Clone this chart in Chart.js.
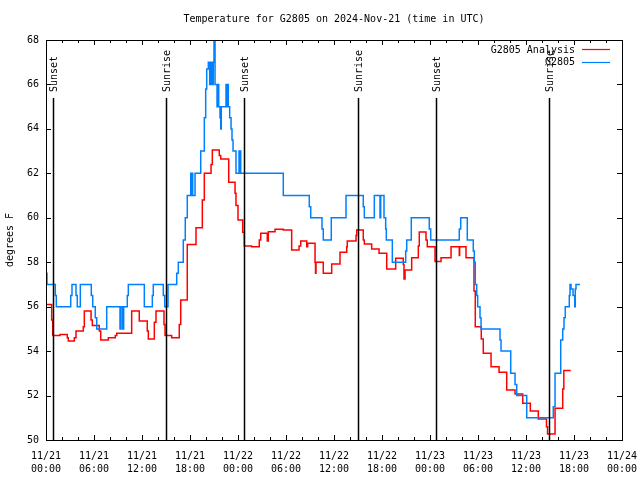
<!DOCTYPE html>
<html>
<head>
<meta charset="utf-8">
<script src="https://cdn.jsdelivr.net/npm/chart.js@4.4.1/dist/chart.umd.min.js"></script>
<style>
    html, body { margin: 0; padding: 0; background: #fff; }
    #wrap { width: 640px; height: 480px; }
</style>
</head>
<body>
<div id="wrap"><canvas id="tempChart" width="640" height="480"></canvas></div>
<script>
// --- Dados (horas desde 11/21 00:00 UTC) ---
const analysisHours = [0, 0.71, 0.84, 1.75, 2.66, 2.79, 3.54, 3.75, 4.66, 4.79, 5.63, 5.79, 6.66, 6.84, 7.79, 8.66, 8.84,
    10.71, 11.66, 12.66, 12.79, 13.54, 13.75, 14.75, 14.88, 15.71, 16.66, 16.84, 17.66, 18.75, 19.54, 19.79, 20.63, 20.79,
    21.66, 21.84, 22.84, 23.63, 23.75, 24.0, 24.59, 24.79, 25.71, 26.66, 26.84, 27.66, 27.79, 28.63, 29.66, 30.71, 31.63,
    31.84, 32.59, 32.71, 33.63, 33.69, 33.75, 34.66, 35.71, 36.75, 37.59, 37.66, 38.75, 38.84, 39.66, 39.79, 40.71, 41.63,
    42.59, 43.71, 44.66, 44.75, 44.88, 45.71, 46.54, 46.66, 47.5, 47.66, 48.63, 49.38, 50.63, 51.66, 51.71, 52.5, 53.5,
    53.66, 54.41, 54.66, 55.63, 56.63, 57.59, 58.63, 59.59, 60.54, 61.54, 62.56, 62.69, 63.63, 64.59, 64.73, 65.59];
const analysisTemps = [56.1, 55.4, 54.7, 54.75, 54.6, 54.45, 54.6, 54.9, 55.1, 55.8, 55.4, 55.15, 54.9, 54.5, 54.6, 54.7, 54.8,
    55.8, 55.35, 54.9, 54.55, 55.3, 55.8, 55.2, 54.7, 54.6, 55.2, 56.3, 58.8, 59.55, 60.8, 62.0, 62.4, 63.05,
    62.8, 62.65, 61.6, 61.1, 60.55, 59.9, 59.35, 58.73, 58.7, 59.0, 59.3, 58.95, 59.37, 59.48, 59.45, 58.55, 58.73,
    58.95, 58.7, 58.85, 58.0, 57.5, 58.0, 57.5, 57.92, 58.45, 58.7, 58.95, 59.2, 59.45, 59.0, 58.82, 58.6, 58.4,
    57.7, 58.18, 57.9, 57.25, 57.65, 58.2, 58.73, 59.36, 59.0, 58.7, 58.03, 58.2, 58.7, 58.3, 58.7, 58.2, 56.7,
    55.1, 54.55, 53.9, 53.3, 53.05, 52.25, 52.07, 51.65, 51.3, 50.95, 50.6, 50.27, 51.43, 52.3, 53.13, 53.13];

const obsHours = [0, 0.125, 1.16, 1.29, 3.09, 3.25, 3.75, 3.91, 4.29, 5.66, 5.84, 6.16, 6.34, 7.59, 9.25, 9.375, 9.59, 9.71,
    10.16, 10.29, 12.29, 13.29, 13.41, 14.66, 14.84, 15.25, 16.34, 16.54, 17.16, 17.41, 17.66, 18.09, 18.16, 18.25, 18.34,
    18.63, 19.34, 19.79, 19.96, 20.09, 20.29, 20.46, 20.54, 20.63, 20.71, 20.79, 20.91, 21.0, 21.13, 21.38, 21.5, 21.59,
    21.75, 21.84, 21.91, 22.5, 22.59, 22.66, 22.79, 22.96, 23.13, 23.25, 23.38, 23.75, 24.13, 24.21, 24.29, 24.34, 29.66,
    32.91, 33.09, 34.5, 34.66, 35.66, 37.5, 39.66, 39.79, 41.04, 41.75, 41.84, 42.25, 42.46, 42.54, 43.29, 44.96, 45.09,
    45.66, 47.91, 48.09, 51.66, 51.84, 52.66, 53.41, 53.54, 53.66, 53.84, 53.96, 54.25, 54.38, 56.75, 56.88, 58.09, 58.63,
    58.84, 60.09, 63.41, 63.63, 64.34, 64.59, 64.75, 64.91, 65.41, 65.5, 65.63, 65.88, 66.09, 66.16, 66.25, 66.75];
const obsTemps = [57.5, 57, 56.5, 56, 56.5, 57, 56.5, 56, 57, 56.5, 56, 55.5, 55, 56, 55, 56, 55, 56,
    56.5, 57, 56, 56.5, 57, 56.5, 56, 57, 57.5, 58, 59, 60, 61, 62, 61, 62, 61,
    62, 63, 64.5, 65.8, 66.7, 67, 66, 67, 66, 67, 66, 67, 68, 66, 65, 66, 65,
    64.5, 64, 65, 66, 65, 66, 65, 64.5, 64, 63.5, 63, 62, 63, 62, 63, 62, 61,
    60.5, 60, 59.5, 59, 60, 61, 60.5, 60, 61, 60, 61, 60, 59.5, 59, 58, 58.5, 59,
    60, 59.5, 59, 59.5, 60, 59, 58.5, 58, 57, 56.5, 56, 55.5, 55, 54.5, 54, 53, 52.5,
    52, 51, 51.5, 53, 54.5, 55, 55.5, 56, 56.5, 57, 56.8, 56.5, 56, 56.8, 57, 57];

const sunHours = [0.9, 15.03, 24.75, 39.03, 48.75, 62.9];
const sunLabels = ['Sunset', 'Sunrise', 'Sunset', 'Sunrise', 'Sunset', 'Sunrise'];

const tickDays = ['11/21', '11/21', '11/21', '11/21', '11/22', '11/22', '11/22', '11/22', '11/23', '11/23', '11/23', '11/23', '11/24'];
const tickClock = ['00:00', '06:00', '12:00', '18:00', '00:00', '06:00', '12:00', '18:00', '00:00', '06:00', '12:00', '18:00', '00:00'];

const chartTitle = 'Temperature for G2805 on 2024-Nov-21 (time in UTC)';
const FONT = 'DejaVu Sans Mono';
const RED = '#ff0000';
const BLUE = '#0080ff';

const toPoints = (xs, ys) => xs.map((x, i) => ({ x, y: ys[i] }));

// --- Plugin estilo gnuplot: moldura, ticks internos, nascer/pôr do sol, título e legenda ---
const gnuplotDecor = {
    id: 'gnuplotDecor',
    afterDatasetsDraw(chart) {
        const { ctx, chartArea: a, scales: { x, y } } = chart;
        ctx.save();
        ctx.strokeStyle = '#000';
        ctx.fillStyle = '#000';

        // linhas de nascer/pôr do sol
        ctx.lineWidth = 1.5;
        sunHours.forEach((h, i) => {
            const px = Math.round(x.getPixelForValue(h)) + 0.5;
            ctx.beginPath();
            ctx.moveTo(px, 98);
            ctx.lineTo(px, a.bottom);
            ctx.stroke();
            ctx.save();
            ctx.translate(px + 1, 92);
            ctx.rotate(-Math.PI / 2);
            ctx.font = `10px "${FONT}"`;
            ctx.textAlign = 'left';
            ctx.textBaseline = 'middle';
            ctx.fillText(sunLabels[i], 0, 0);
            ctx.restore();
        });

        // moldura
        ctx.lineWidth = 1;
        ctx.strokeRect(a.left + 0.5, a.top + 0.5, a.right - a.left, a.bottom - a.top);

        // ticks do eixo x (maiores a cada 6h, menores a cada 2h)
        ctx.beginPath();
        for (let h = 0; h <= 72; h += 2) {
            const px = Math.round(x.getPixelForValue(h)) + 0.5;
            const len = h % 6 === 0 ? 5 : 3;
            ctx.moveTo(px, a.bottom);
            ctx.lineTo(px, a.bottom - len);
            ctx.moveTo(px, a.top);
            ctx.lineTo(px, a.top + len);
        }
        // ticks do eixo y
        for (let v = 50; v <= 68; v += 2) {
            const py = Math.round(y.getPixelForValue(v)) + 0.5;
            ctx.moveTo(a.left, py);
            ctx.lineTo(a.left + 5, py);
            ctx.moveTo(a.right, py);
            ctx.lineTo(a.right - 5, py);
        }
        ctx.stroke();

        // título
        ctx.font = `10px "${FONT}"`;
        ctx.textAlign = 'center';
        ctx.textBaseline = 'middle';
        ctx.fillText(chartTitle, (a.left + a.right) / 2, 19);

        // legenda
        const legend = [['G2805 Analysis', RED], ['G2805', BLUE]];
        ctx.textAlign = 'right';
        legend.forEach(([label, color], i) => {
            const ly = 50 + i * 12.5;
            ctx.fillStyle = '#000';
            ctx.fillText(label, 575, ly);
            ctx.strokeStyle = color;
            ctx.lineWidth = 1.2;
            ctx.beginPath();
            ctx.moveTo(582, Math.round(ly) - 0.5);
            ctx.lineTo(610, Math.round(ly) - 0.5);
            ctx.stroke();
        });
        ctx.restore();
    }
};

const ctx = document.getElementById('tempChart');
new Chart(ctx, {
    type: 'line',
    data: {
        datasets: [
            {
                label: 'G2805 Analysis',
                data: toPoints(analysisHours, analysisTemps),
                borderColor: RED,
                borderWidth: 1.5,
                stepped: true,
                pointRadius: 0,
                fill: false,
                order: 1,
            },
            {
                label: 'G2805',
                data: toPoints(obsHours, obsTemps),
                borderColor: BLUE,
                borderWidth: 1.5,
                stepped: true,
                pointRadius: 0,
                fill: false,
                order: 0,
            }
        ]
    },
    options: {
        responsive: false,
        animation: false,
        devicePixelRatio: 1,
        parsing: false,
        layout: { padding: { top: 40, right: 18, left: 0, bottom: 0 } },
        plugins: {
            legend: { display: false },
            title: { display: false },
            tooltip: { enabled: false }
        },
        scales: {
            x: {
                type: 'linear',
                min: 0,
                max: 72,
                grid: { display: false, drawTicks: false },
                border: { display: false },
                afterFit: s => { s.height = 40; s.paddingLeft = 0; s.paddingRight = 0; },
                ticks: {
                    stepSize: 6,
                    autoSkip: false,
                    maxRotation: 0,
                    padding: 10,
                    color: '#000',
                    font: { family: FONT, size: 10, lineHeight: 1.3 },
                    callback: v => {
                        const i = Math.round(v / 6);
                        return [tickDays[i], tickClock[i]];
                    }
                }
            },
            y: {
                min: 50,
                max: 68,
                grid: { display: false, drawTicks: false },
                border: { display: false },
                afterFit: s => { s.width = 46; s.paddingTop = 0; s.paddingBottom = 0; },
                ticks: {
                    stepSize: 2,
                    padding: 7,
                    color: '#000',
                    font: { family: FONT, size: 10 }
                },
                title: {
                    display: true,
                    text: 'degrees F',
                    color: '#000',
                    font: { family: FONT, size: 10 }
                }
            }
        }
    },
    plugins: [gnuplotDecor]
});
</script>
</body>
</html>
